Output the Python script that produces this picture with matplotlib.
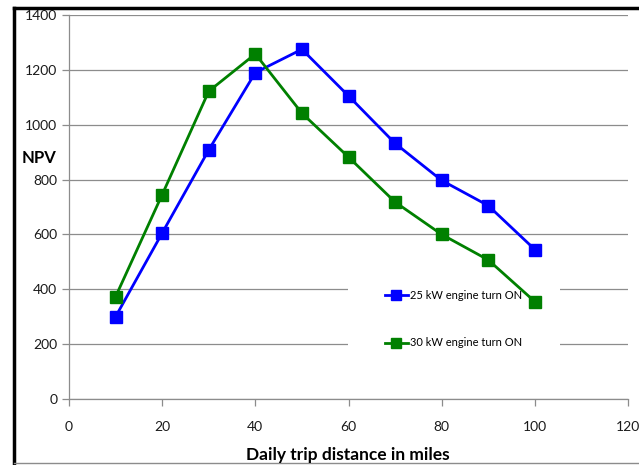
import matplotlib.pyplot as plt
from matplotlib.lines import Line2D

plt.rcParams['font.family'] = ['Lato', 'DejaVu Sans']

distance = [10, 20, 30, 40, 50, 60, 70, 80, 90, 100]
npv_25kw = [300, 605, 908, 1190, 1275, 1105, 932, 797, 705, 545]
npv_30kw = [373, 745, 1122, 1258, 1042, 882, 718, 600, 507, 355]
labels = ['25 kW engine turn ON', '30 kW engine turn ON']

W, H = 639, 465
fig = plt.figure(figsize=(W / 100, H / 100), dpi=100)
ax = fig.add_axes([69 / W, 1 - 399 / H, (628 - 69) / W, (399 - 15) / H])

ax.plot(distance, npv_25kw, color='#0000FF', lw=2, marker='s', ms=8.5, label=labels[0], zorder=3)
ax.plot(distance, npv_30kw, color='#008000', lw=2, marker='s', ms=8.5, label=labels[1], zorder=3)

ax.set_xlim(0, 120)
ax.set_ylim(0, 1400)
ax.set_xticks(range(0, 121, 20))
ax.set_yticks(range(0, 1401, 200))
ax.set_axisbelow(True)
ax.grid(axis='y', color='#8c8c8c', lw=0.9)
for s in ['top', 'right']:
    ax.spines[s].set_visible(False)
for s in ['left', 'bottom']:
    ax.spines[s].set_color('#8c8c8c')
    ax.spines[s].set_linewidth(0.9)
ax.tick_params(colors='#8c8c8c', labelcolor='#1a1a1a', labelsize=10, length=5, width=0.9)
ax.tick_params(axis='x', pad=11)

handles = [Line2D([], [], color='#0000FF', lw=2, marker='s', ms=7),
           Line2D([], [], color='#008000', lw=2, marker='s', ms=7)]
leg = ax.legend(handles, labels, loc='center', bbox_to_anchor=(0.688, 0.208),
                fontsize=8, frameon=True, facecolor='white', edgecolor='none',
                framealpha=1, fancybox=False, labelspacing=3.3, borderpad=3.4,
                handlelength=2.0, handletextpad=0.2)
leg.set_zorder(1)

fig.text(39 / W, 1 - 158 / H, 'NPV', ha='center', va='center', fontsize=12, fontweight='bold')
fig.text(348 / W, 1 - 455 / H, 'Daily trip distance in miles', ha='center', va='center',
         fontsize=12.5, fontweight='bold')

# outer chart border
fig.add_artist(Line2D([14 / W, 14 / W], [0, 1 - 8 / H], color='black', lw=2.5))
fig.add_artist(Line2D([14 / W, 1], [1 - 8 / H, 1 - 8 / H], color='black', lw=2.5))
fig.add_artist(Line2D([14 / W, 1], [1 - 463 / H, 1 - 463 / H], color='#8c8c8c', lw=1))

fig.savefig('out.png', dpi=100)
